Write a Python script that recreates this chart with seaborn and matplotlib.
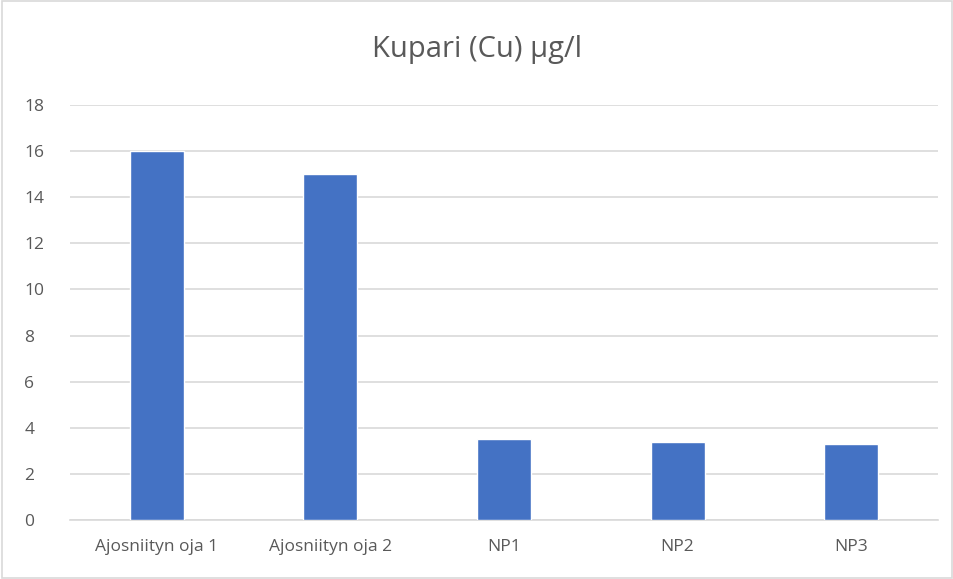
import matplotlib
matplotlib.use("Agg")
import matplotlib.pyplot as plt
import seaborn as sns
import pandas as pd

# data
sites = ["Ajosniityn oja 1", "Ajosniityn oja 2", "NP1", "NP2", "NP3"]
copper = [16, 15, 3.5, 3.4, 3.3]

df = pd.DataFrame({"site": sites, "cu": copper})

sns.set_style("white")
plt.rcParams["font.family"] = ["Open Sans", "DejaVu Sans"]

fig = plt.figure(figsize=(9.54, 5.79), dpi=100)
ax = fig.add_axes([70 / 954, 1 - 520 / 579, 868 / 954, 415 / 579])

sns.barplot(data=df, x="site", y="cu", color="#4472C4", width=0.31,
            saturation=1, ax=ax, zorder=3)

ax.set_ylim(0, 18)
ax.set_yticks(range(0, 19, 2))
ax.set_xlim(-0.5, len(sites) - 0.5)
ax.set_xlabel("")
ax.set_ylabel("")
ax.yaxis.grid(True, color="#D9D9D9", linewidth=1.2, zorder=0)
for s in ["top", "right", "left"]:
    ax.spines[s].set_visible(False)
ax.spines["bottom"].set_color("#D9D9D9")
ax.spines["bottom"].set_linewidth(1.2)
ax.tick_params(axis="both", length=0, labelsize=12.5, colors="#595959")
ax.tick_params(axis="y", pad=33)
ax.tick_params(axis="x", pad=14)
for lab in ax.get_yticklabels():
    lab.set_horizontalalignment("left")

fig.text(0.5, 1 - 50 / 579, "Kupari (Cu) µg/l", ha="center", va="center",
         fontsize=21, color="#595959")

# light outer border like the chart frame
fig.patches.append(plt.Rectangle((0.002, 0.002), 0.996, 0.996, transform=fig.transFigure,
                                 fill=False, edgecolor="#D9D9D9", linewidth=1.2))

fig.savefig("out.png", dpi=100)
